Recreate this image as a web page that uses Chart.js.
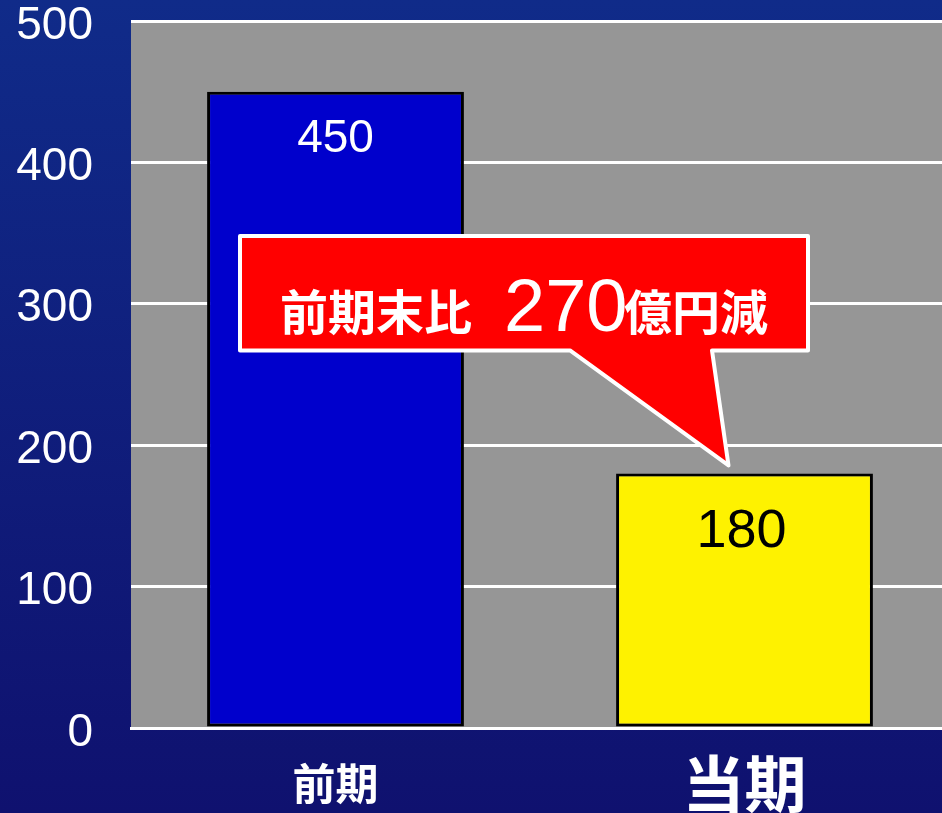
<!DOCTYPE html>
<html>
<head>
<meta charset="utf-8">
<script src="https://cdn.jsdelivr.net/npm/chart.js@4"></script>
<style>
  html, body { margin: 0; padding: 0; background: #0f1d80; overflow: hidden; }
  #wrap { width: 942px; height: 813px; overflow: hidden; }
</style>
</head>
<body>
<div id="wrap"><canvas id="chart" width="949" height="813"></canvas></div>
<script>
const categories = ['前期', '当期'];
const values = [450, 180];
const barColors = ['#0000cc', '#fef200'];
const valueColors = ['#ffffff', '#000000'];
const yTicks = [0, 100, 200, 300, 400, 500];
const calloutParts = ['前期末比', '270', '億円減'];

const NUM_FONT = '"Liberation Sans", Arial, sans-serif';
const JP_FONT = '"Noto Sans CJK JP", sans-serif';

// gradient backdrop + grey plot area
const backdrop = {
  id: 'backdrop',
  beforeDraw(chart) {
    const { ctx, chartArea: a, width, height } = chart;
    ctx.save();
    const g = ctx.createLinearGradient(0, 0, 0, height);
    g.addColorStop(0, '#102b89');
    g.addColorStop(1, '#0f116f');
    ctx.fillStyle = g;
    ctx.fillRect(0, 0, width, height);
    ctx.fillStyle = '#969696';
    ctx.fillRect(a.left, a.top, a.right - a.left, a.bottom - a.top);
    ctx.restore();
  }
};

// value inside each bar, near the top
const barValues = {
  id: 'barValues',
  afterDatasetsDraw(chart) {
    const { ctx } = chart;
    const meta = chart.getDatasetMeta(0);
    ctx.save();
    ctx.textAlign = 'center';
    ctx.textBaseline = 'middle';
    meta.data.forEach((bar, i) => {
      ctx.fillStyle = valueColors[i];
      ctx.font = (i === 0 ? '46px ' : '54px ') + NUM_FONT;
      ctx.fillText(String(values[i]), bar.x + (i === 0 ? 0 : -3), bar.y + (i === 0 ? 48 : 59));
    });
    ctx.restore();
  }
};

// red speech-bubble callout pointing at the current bar
const callout = {
  id: 'callout',
  afterDraw(chart) {
    const { ctx } = chart;
    const y = chart.scales.y;
    const bar = chart.getDatasetMeta(0).data[1];
    const left = 240, right = 808;
    const top = y.getPixelForValue(348), bottom = y.getPixelForValue(267);
    const tipX = bar.x - 16, tipY = bar.y - 8;
    ctx.save();
    ctx.beginPath();
    ctx.moveTo(left, top);
    ctx.lineTo(right, top);
    ctx.lineTo(right, bottom);
    ctx.lineTo(712, bottom);
    ctx.lineTo(tipX, tipY);
    ctx.lineTo(570, bottom);
    ctx.lineTo(left, bottom);
    ctx.closePath();
    ctx.fillStyle = '#ff0000';
    ctx.fill();
    ctx.lineWidth = 4;
    ctx.lineJoin = 'round';
    ctx.strokeStyle = '#ffffff';
    ctx.stroke();

    const fonts = ['bold 48px ' + JP_FONT, '74px ' + NUM_FONT, 'bold 48px ' + JP_FONT];
    const starts = [280, 504, 624];
    const base = y.getPixelForValue(281);
    ctx.fillStyle = '#ffffff';
    ctx.textBaseline = 'alphabetic';
    ctx.textAlign = 'left';
    calloutParts.forEach((t, i) => {
      ctx.font = fonts[i];
      ctx.fillText(t, starts[i], base + (i === 1 ? 0 : -1));
    });
    ctx.restore();
  }
};

new Chart(document.getElementById('chart').getContext('2d'), {
  type: 'bar',
  data: {
    labels: categories,
    datasets: [{
      data: values,
      backgroundColor: barColors,
      borderColor: '#000000',
      borderWidth: 3,
      borderSkipped: false,
      categoryPercentage: 1.0,
      barPercentage: 0.628
    }]
  },
  options: {
    responsive: false,
    animation: false,
    layout: { padding: { top: 21, right: 0, left: 0, bottom: 0 } },
    plugins: {
      legend: { display: false },
      tooltip: { enabled: false }
    },
    scales: {
      x: {
        grid: { display: false },
        border: { display: true, color: '#ffffff', width: 3 },
        ticks: {
          color: '#ffffff',
          padding: 18,
          font: (c) => ({ family: JP_FONT, weight: 'bold', size: c.index === 1 ? 62 : 43, lineHeight: '60px' })
        },
        afterFit(scale) { scale.height = 85; scale.paddingLeft = 0; scale.paddingRight = 0; }
      },
      y: {
        min: 0,
        max: 500,
        afterBuildTicks(scale) { scale.ticks = yTicks.map(v => ({ value: v })); },
        grid: { color: '#ffffff', lineWidth: 3, drawTicks: false },
        border: { display: false },
        ticks: {
          color: '#ffffff',
          padding: 38,
          labelOffset: 5,
          font: { family: NUM_FONT, size: 46 }
        },
        afterFit(scale) { scale.width = 131; scale.paddingTop = 0; scale.paddingBottom = 0; }
      }
    }
  },
  plugins: [backdrop, barValues, callout]
});
</script>
</body>
</html>
